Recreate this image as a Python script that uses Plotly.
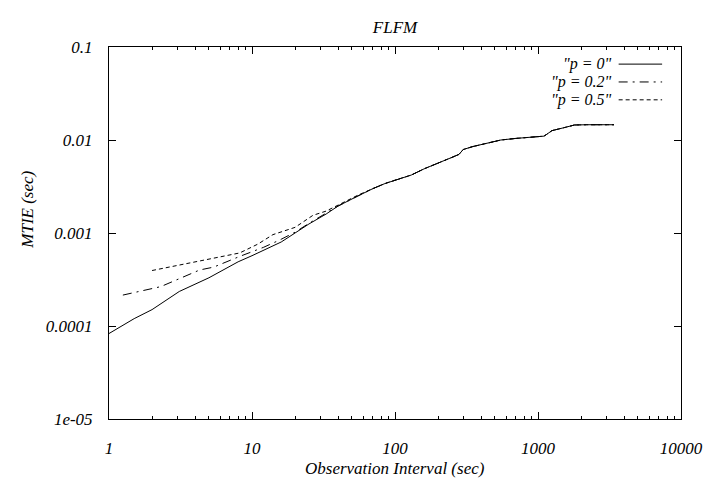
import plotly.graph_objects as go

# ---- data ----
x_p0 = [1, 1.5, 2, 3.1, 5, 8, 10, 13, 16, 20, 25, 33, 40, 55, 70, 85, 100, 130, 160, 200,
        250, 280, 300, 350, 430, 550, 700, 900, 1100, 1150, 1250, 1500, 1800, 2200, 3400]
y_p0 = [8.3e-5, 1.2e-4, 1.5e-4, 2.35e-4, 3.3e-4, 4.9e-4, 5.7e-4, 6.9e-4, 8.0e-4, 1.0e-3,
        1.25e-3, 1.6e-3, 1.95e-3, 2.5e-3, 3.0e-3, 3.4e-3, 3.7e-3, 4.2e-3, 4.9e-3, 5.6e-3,
        6.5e-3, 7.0e-3, 7.9e-3, 8.5e-3, 9.2e-3, 1.0e-2, 1.04e-2, 1.08e-2, 1.1e-2, 1.15e-2,
        1.26e-2, 1.35e-2, 1.45e-2, 1.46e-2, 1.46e-2]

x_p02 = [1.25, 2.3, 4.3, 5.4, 8.2, 12, 15.6, 20, 25, 33, 40, 55, 70, 85, 100, 130, 160, 200,
         250, 280, 300, 350, 430, 550, 700, 900, 1100, 1150, 1250, 1500, 1800, 2200, 3400]
y_p02 = [2.15e-4, 2.65e-4, 4.0e-4, 4.3e-4, 5.6e-4, 7.0e-4, 8.4e-4, 1.02e-3, 1.27e-3, 1.63e-3,
         1.95e-3, 2.5e-3, 3.0e-3, 3.4e-3, 3.7e-3, 4.2e-3, 4.9e-3, 5.6e-3, 6.5e-3, 7.0e-3,
         7.9e-3, 8.5e-3, 9.2e-3, 1.0e-2, 1.04e-2, 1.08e-2, 1.1e-2, 1.15e-2, 1.26e-2, 1.35e-2,
         1.45e-2, 1.46e-2, 1.46e-2]

x_p05 = [2, 4.1, 8.2, 11, 14, 20, 26.7, 33, 40, 55, 70, 85, 100, 130, 160, 200,
         250, 280, 300, 350, 430, 550, 700, 900, 1100, 1150, 1250, 1500, 1800, 2200, 3400]
y_p05 = [3.95e-4, 4.9e-4, 6.1e-4, 7.6e-4, 9.6e-4, 1.15e-3, 1.55e-3, 1.72e-3, 2.0e-3, 2.55e-3,
         3.0e-3, 3.4e-3, 3.7e-3, 4.2e-3, 4.9e-3, 5.6e-3, 6.5e-3, 7.0e-3, 7.9e-3, 8.5e-3,
         9.2e-3, 1.0e-2, 1.04e-2, 1.08e-2, 1.1e-2, 1.15e-2, 1.26e-2, 1.35e-2, 1.45e-2,
         1.46e-2, 1.46e-2]

series_names = ['"p = 0"', '"p = 0.2"', '"p = 0.5"']
series_dash = ["solid", "9px,5px,2px,5px", "4px,3px"]

x_tickvals = [1, 10, 100, 1000, 10000]
x_ticktext = ["1", "10", "100", "1000", "10000"]
y_tickvals = [1e-5, 1e-4, 1e-3, 1e-2, 1e-1]
y_ticktext = ["1e-05", "0.0001", "0.001", "0.01", "0.1"]

FONT = "Liberation Serif"
fs = 17
tfont = dict(family=FONT, size=fs, color="black", style="italic")
kfont = dict(family=FONT, size=16, color="black", style="italic")

fig = go.Figure()
for xs, ys, nm, ds in zip([x_p0, x_p02, x_p05], [y_p0, y_p02, y_p05], series_names, series_dash):
    fig.add_trace(go.Scatter(x=xs, y=ys, mode="lines", name=nm, showlegend=False,
                             line=dict(color="black", width=1, dash=ds)))

# gnuplot-style key: text right-aligned, sample line to its right
key_y = [0.954, 0.906, 0.858]
for nm, ds, ky in zip(series_names, series_dash, key_y):
    fig.add_annotation(x=0.881, y=ky, xref="paper", yref="paper", text=nm,
                       showarrow=False, xanchor="right", yanchor="middle", font=kfont,
                       borderpad=0)
    fig.add_shape(type="line", xref="paper", yref="paper", x0=0.891, x1=0.967, y0=ky, y1=ky,
                  line=dict(color="black", width=1, dash=ds))

# axis labels placed like gnuplot's
fig.add_annotation(x=-0.142, y=0.562, xref="paper", yref="paper", text="MTIE (sec)",
                   textangle=-90, showarrow=False, xanchor="center", yanchor="middle",
                   font=tfont)
fig.add_annotation(x=0.5, y=-0.132, xref="paper", yref="paper",
                   text="Observation Interval (sec)", showarrow=False,
                   xanchor="center", yanchor="middle", font=tfont)

axis_common = dict(type="log", showgrid=False, zeroline=False, showline=True,
                   linecolor="black", linewidth=1, mirror="allticks",
                   ticks="inside", ticklen=7, tickcolor="black", tickwidth=1,
                   tickfont=tfont, automargin=False)

fig.update_xaxes(**axis_common, range=[0, 4], tickvals=x_tickvals, ticktext=x_ticktext,
                 ticklabelstandoff=14,
                 minor=dict(ticks="inside", ticklen=3, tickcolor="black", tickwidth=1,
                            dtick="D1", showgrid=False))
fig.update_yaxes(**axis_common, range=[-5, -1], tickvals=y_tickvals, ticktext=y_ticktext,
                 ticklabelstandoff=12)

fig.update_layout(
    width=707, height=480,
    margin=dict(l=109, r=26, t=47, b=61, autoexpand=False),
    paper_bgcolor="white", plot_bgcolor="white",
    title=dict(text="FLFM", x=0.5, xanchor="center", y=1 - 27 / 480, yanchor="middle",
               xref="paper", font=tfont),
)

fig.write_html("out.html")
